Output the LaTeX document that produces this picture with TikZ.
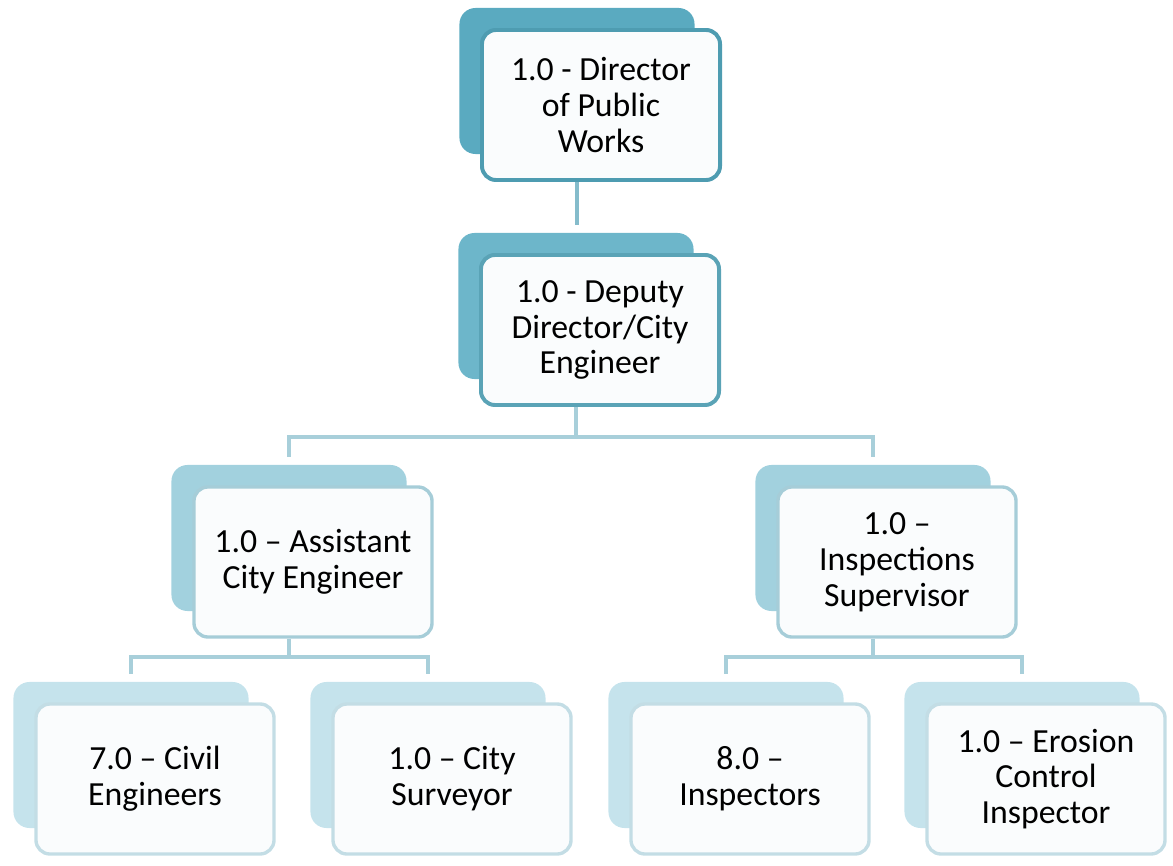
\documentclass[tikz,border=0pt]{standalone}
\usepackage{fontspec}
\setmainfont{Carlito}
\usetikzlibrary{positioning}
\definecolor{topback}{HTML}{5AAAC0}
\definecolor{depback}{HTML}{6DB6CA}
\definecolor{topedge}{HTML}{4E9CB1}
\definecolor{depedge}{HTML}{5AA3B6}
\definecolor{midback}{HTML}{A2D1DE}
\definecolor{midedge}{HTML}{A6CDD8}
\definecolor{lowback}{HTML}{C5E3EC}
\definecolor{lowedge}{HTML}{C3DDE5}
\definecolor{connA}{HTML}{85BCCB}
\definecolor{connB}{HTML}{A8CFDA}
\definecolor{boxfill}{HTML}{FAFCFD}
\tikzset{font=\fontsize{24}{25.5}\selectfont}
\tikzset{every node/.append style={transform shape=false}}
\tikzset{
  backbox/.style={rounded corners=0.4cm, minimum width=5.875cm,
    minimum height=3.65cm, inner sep=0pt, fill=#1},
  frontbox/.style={rounded corners=0.35cm, minimum width=5.95cm,
    minimum height=3.75cm, inner sep=2pt, align=center, fill=boxfill,
    draw=#1, line width=2.4pt},
  conn/.style={line width=3pt, draw=#1, shorten >=0.2cm}
}

\begin{document}
\begin{tikzpicture}[x=0.025cm,y=-0.025cm]
  \useasboundingbox (0,0) rectangle (1173,866);
% director and deputy
  \node[backbox=topback] (dirb) at (577,81) {};
  \node[frontbox=topedge, line width=2.8pt] (dir) at ([shift={(24,24)}]dirb.center)
    {1.0 - Director\\of Public\\Works};
  \node[backbox=depback] (depb) at (576,306) {};
  \node[frontbox=depedge, line width=2.8pt] (dep) at ([shift={(24,24)}]depb.center)
    {1.0 - Deputy\\Director/City\\Engineer};
% second row
  \node[backbox=midback] (aceb) at (289,538) {};
  \node[frontbox=midedge] (ace) at ([shift={(24,24)}]aceb.center)
    {1.0 – Assistant\\City Engineer};
  \node[backbox=midback] (isupb) at (873,538) {};
  \node[frontbox=midedge] (isup) at ([shift={(24,24)}]isupb.center)
    {1.0 –\\Inspections\\Supervisor};
% bottom row
  \node[backbox=lowback] (civb) at (131,755) {};
  \node[frontbox=lowedge] (civ) at ([shift={(24,24)}]civb.center)
    {7.0 – Civil\\Engineers};
  \node[backbox=lowback] (survb) at (428,755) {};
  \node[frontbox=lowedge] (surv) at ([shift={(24,24)}]survb.center)
    {1.0 – City\\Surveyor};
  \node[backbox=lowback] (inspb) at (726,755) {};
  \node[frontbox=lowedge] (insp) at ([shift={(24,24)}]inspb.center)
    {8.0 –\\Inspectors};
  \node[backbox=lowback] (erob) at (1022,755) {};
  \node[frontbox=lowedge] (ero) at ([shift={(24,24)}]erob.center)
    {1.0 – Erosion\\Control\\Inspector};
% connectors
  \coordinate (jA) at (0,437);
  \coordinate (jB) at (0,657);
  \draw[conn=connA] (dirb.center |- dir.south) -- (dirb.center |- depb.north);
  \draw[conn=connB] (depb.center |- dep.south) -- (depb.center |- jA) -| (aceb.north);
  \draw[conn=connB] (depb.center |- jA) -| (isupb.north);
  \draw[conn=connB] (aceb.center |- ace.south) -- (aceb.center |- jB) -| (civb.north);
  \draw[conn=connB] (aceb.center |- jB) -| (survb.north);
  \draw[conn=connB] (isupb.center |- isup.south) -- (isupb.center |- jB) -| (inspb.north);
  \draw[conn=connB] (isupb.center |- jB) -| (erob.north);
\end{tikzpicture}
\end{document}
